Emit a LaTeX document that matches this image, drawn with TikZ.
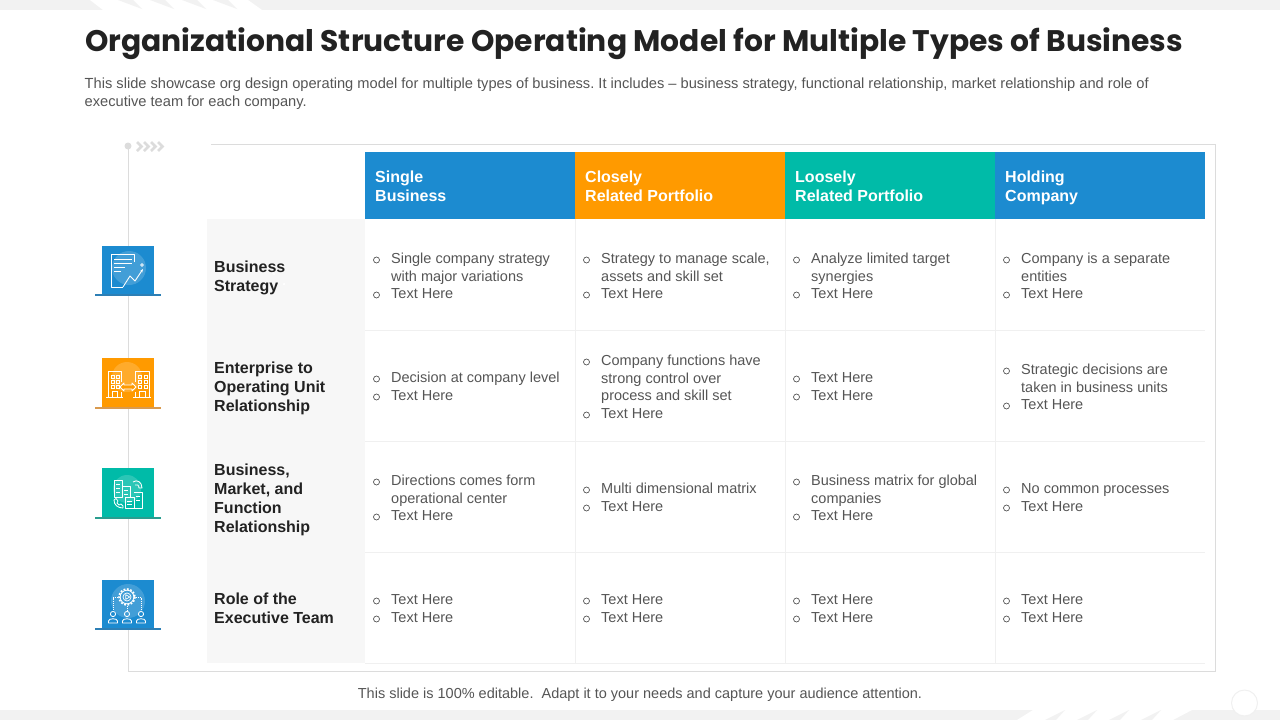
\documentclass[tikz,border=0pt]{standalone}
\usepackage{fontspec}
\setmainfont{Liberation Sans}
\newfontfamily\titlefont{Poppins}
\usepackage{xcolor}
\definecolor{bandgrey}{HTML}{F2F2F2}
\definecolor{framegrey}{HTML}{DCDCDC}
\definecolor{rowgrey}{HTML}{F7F7F7}
\definecolor{hairgrey}{HTML}{F0F0F0}
\definecolor{bodygrey}{HTML}{555555}
\definecolor{inkdark}{HTML}{222222}
\definecolor{blueone}{HTML}{1C8BD0}
\definecolor{orangeone}{HTML}{FF9A00}
\definecolor{tealone}{HTML}{00BBA8}
\definecolor{bluebase}{HTML}{2D7FB5}
\definecolor{orangebase}{HTML}{D99A4E}
\definecolor{tealbase}{HTML}{2A9D8F}
\usetikzlibrary{positioning,calc,arrows.meta}
\tikzset{
	headbox/.style={minimum width=210pt,minimum height=67pt,inner sep=0pt,outer sep=0pt,anchor=north west},
	headtext/.style={text=white,font=\fontsize{16}{19}\selectfont\bfseries,align=left,inner sep=0pt},
	rowtext/.style={text=inkdark,font=\fontsize{16}{19}\selectfont\bfseries,align=left,anchor=north west,inner sep=0pt},
	celltext/.style={text=bodygrey,font=\fontsize{14.5}{17.6}\selectfont,align=left,anchor=north west,inner sep=0pt},
	bulletdot/.style={circle,draw=bodygrey,line width=0.7pt,minimum size=6pt,inner sep=0pt},
	iconbox/.style={minimum width=52pt,minimum height=49.5pt,inner sep=0pt,outer sep=0pt},
	iconglow/.style={circle,fill=white,fill opacity=0.17,inner sep=0pt},
	iconline/.style={draw=white,line width=0.85pt,line join=round},
	hair/.style={draw=hairgrey,line width=0.8pt}
}
\begin{document}
\frenchspacing
\begin{tikzpicture}[x=1pt,y=-1pt]
	\useasboundingbox (0,0) rectangle (1280,720);
	% top and bottom bands
	\fill[bandgrey] (0,0) rectangle (1280,10);
	\fill[bandgrey] (0,710) rectangle (1280,720);
	\fill[white] (90,0) -- (248,0) -- (262,10) -- (103,10) -- cycle;
	\fill[white] (1017,720) -- (1173,720) -- (1192,710) -- (1033,710) -- cycle;
	\foreach \sx in {118,150,182,213}
		\fill[bandgrey] (\sx,0) -- (\sx+15,0) -- (\sx+24,9) -- cycle;
	\foreach \sx in {1045,1077,1109,1141}
		\fill[bandgrey] (\sx,720) -- (\sx+11,720) -- (\sx+20,710) -- cycle;
	\draw[draw=hairgrey,fill=white,line width=1pt] (1244.5,703) circle (13);
	% heading
	\node[anchor=west,inner sep=0pt,text=inkdark,font=\fontsize{29.75}{36}\titlefont\bfseries] (title) at (85,44) {Organizational Structure Operating Model for Multiple Types of Business};
	\node[anchor=north west,inner sep=0pt,text=bodygrey,font=\fontsize{14.65}{18}\selectfont,align=left] (intro) at (84.5,77.5) {This slide showcase org design operating model for multiple types of business. It includes -- business strategy, functional relationship, market relationship and role of\\executive team for each company.};
	\node[text=bodygrey,font=\fontsize{14.5}{18}\selectfont,inner sep=0pt] (closing) at (640,695) {This slide is 100\% editable.\ \ Adapt it to your needs and capture your audience attention.};
	% frame and time line
	\draw[framegrey,line width=1pt] (211,144.5) -- (1215,144.5) -- (1215,671.5) -- (128,671.5) -- (128,146);
	\node[circle,fill=framegrey,minimum size=7pt,inner sep=0pt] (startdot) at (128,146) {};
	\foreach \cx in {137,144,151,158}
		\draw[framegrey,line width=2.6pt] (\cx,142) -- (\cx+4.5,146.5) -- (\cx,151);
	% row labels
	\fill[rowgrey] (207,219) rectangle (365,663);
	\node[rowtext] (rowa) at (214,260.5) {Business\\Strategy};
	\node[rowtext] (rowb) at (214,361.5) {Enterprise to\\Operating Unit\\Relationship};
	\node[rowtext] (rowc) at (214,463.5) {Business,\\Market, and\\Function\\Relationship};
	\node[rowtext] (rowd) at (214,593) {Role of the\\Executive Team};
	% header cells
	\node[headbox,fill=blueone] (heada) at (365,152) {};
	\node[headbox,fill=orangeone] (headb) at (575,152) {};
	\node[headbox,fill=tealone] (headc) at (785,152) {};
	\node[headbox,fill=blueone] (headd) at (995,152) {};
	\node[headtext,below right=19pt and 10pt of heada.north west] (labela) {Single\\Business};
	\node[headtext,below right=19pt and 10pt of headb.north west] (labelb) {Closely\\Related Portfolio};
	\node[headtext,below right=19pt and 10pt of headc.north west] (labelc) {Loosely\\Related Portfolio};
	\node[headtext,below right=19pt and 10pt of headd.north west] (labeld) {Holding\\Company};
	% cell rules
	\foreach \ry in {330,441,552,663}
		\draw[hair] (365,\ry) -- (1205,\ry);
	\foreach \rx in {575,785,995}
		\draw[hair] (\rx,219) -- (\rx,663);
	% cell texts
	\foreach \nm/\cx/\cy/\txt in {
		aa/365/258/{Single company strategy\\with major variations},
		ab/365/293/{Text Here},
		ba/575/258/{Strategy to manage scale,\\assets and skill set},
		bb/575/293/{Text Here},
		ca/785/258/{Analyze limited target\\synergies},
		cb/785/293/{Text Here},
		da/995/258/{Company is a separate\\entities},
		db/995/293/{Text Here},
		ea/365/377/{Decision at company level},
		eb/365/395/{Text Here},
		fa/575/360/{Company functions have\\strong control over\\process and skill set},
		fb/575/413/{Text Here},
		ga/785/377/{Text Here},
		gb/785/395/{Text Here},
		ha/995/369/{Strategic decisions are\\taken in business units},
		hb/995/404/{Text Here},
		ia/365/480/{Directions comes form\\operational center},
		ib/365/515/{Text Here},
		ja/575/488/{Multi dimensional matrix},
		jb/575/506/{Text Here},
		ka/785/480/{Business matrix for global\\companies},
		kb/785/515/{Text Here},
		la/995/488/{No common processes},
		lb/995/506/{Text Here},
		ma/365/599/{Text Here},
		mb/365/617/{Text Here},
		na/575/599/{Text Here},
		nb/575/617/{Text Here},
		oa/785/599/{Text Here},
		ob/785/617/{Text Here},
		pa/995/599/{Text Here},
		pb/995/617/{Text Here}}{
		\node[bulletdot] (dot\nm) at (\cx+11.5,\cy+2) {};
		\node[celltext] (item\nm) at (\cx+26,\cy-5) {\txt};
	}
	% icon one
	\node[iconbox,fill=blueone] (icona) at (128,270.5) {};
	\draw[draw=bluebase,line width=2pt] ([xshift=-7pt]icona.south west) -- ([xshift=7pt]icona.south east);
	\node[iconglow,minimum size=34pt] (glowa) at (129,268) {};
	\draw[iconline] (134,262) -- (134,254) -- (111,254) -- (111,287) -- (123,287);
	\draw[iconline] (114,259) -- (132,259) (114,263) -- (132,263) (114,267) -- (125,267) (114,271) -- (121,271);
	\draw[iconline,-{Stealth[length=3.5pt]}] (123,287) -- (130,276) -- (135,281) -- (143,269);
	\draw[draw=white,line width=0.7pt] (142,265) circle (1.3);
	\foreach \px/\py in {124,273,132,268,138,274,141,284,131,284}
		\fill[white] (\px,\py) circle (1);
	% icon two
	\node[iconbox,fill=orangeone] (iconb) at (128,383) {};
	\draw[draw=orangebase,line width=2pt] ([xshift=-7pt]iconb.south west) -- ([xshift=7pt]iconb.south east);
	\node[iconglow,minimum size=30pt] (glowb) at (127,377) {};
	\draw[iconline] (108,397) -- (108,371) -- (121,371) -- (121,382) (121,392) -- (121,397);
	\draw[iconline] (149,397) -- (149,371) -- (135,371) -- (135,382) (135,392) -- (135,397);
	\draw[iconline] (106,397.5) -- (123,397.5) (133,397.5) -- (151,397.5);
	\foreach \wx in {111,116,138,144}
		\foreach \wy in {375,380,385}
			\draw[draw=white,line width=0.7pt] (\wx,\wy) rectangle +(3,3);
	\draw[draw=white,line width=0.7pt] (112,391) rectangle (117,397.5) (139,391) rectangle (145,397.5);
	\draw[iconline,fill=orangeone] (120,387) -- (124,383) -- (124,385) -- (132,385) -- (132,383) -- (136,387) -- (132,391) -- (132,389) -- (124,389) -- (124,391) -- cycle;
	% icon three
	\node[iconbox,fill=tealone] (iconc) at (128,493) {};
	\draw[draw=tealbase,line width=2pt] ([xshift=-7pt]iconc.south west) -- ([xshift=7pt]iconc.south east);
	\node[iconglow,minimum size=28pt] (glowc) at (127,489) {};
	\draw[iconline] (114,497) -- (114,480) -- (122,480) -- (122,497) -- cycle;
	\draw[iconline] (122,486) -- (130,486) -- (130,497);
	\draw[iconline] (125,508) -- (125,497) -- (134,497) -- (134,508) -- cycle;
	\draw[iconline] (134,492) -- (142,492) -- (142,508) -- (134,508);
	\draw[iconline] (116,484) -- (120,484) (116,488) -- (120,488) (116,492) -- (120,492);
	\draw[iconline] (124,490) -- (128,490) (124,494) -- (128,494);
	\draw[iconline] (127,501) -- (132,501) (127,504.5) -- (132,504.5) (136,496) -- (140,496) (136,500) -- (140,500);
	\draw[iconline] (114,500) .. controls (114,505) and (118,508) .. (123,508);
	\draw[iconline] (114,500) -- (116,498.5) -- (118,501) -- (117,503) -- (119,505) -- (121,504) -- (123,506) -- (123,508);
	\draw[iconline] (133,482) .. controls (137,479) and (142,482) .. (142,488) -- (139,488) .. controls (139,485) and (137,484) .. (135,485);
	% icon four
	\node[iconbox,fill=blueone] (icond) at (128,604.5) {};
	\draw[draw=bluebase,line width=2pt] ([xshift=-7pt]icond.south west) -- ([xshift=7pt]icond.south east);
	\node[iconglow,minimum size=34pt] (glowd) at (128,601) {};
	\draw[draw=white,line width=1.6pt,dash pattern=on 1.8pt off 1.6pt] (127,597) circle (8);
	\draw[iconline] (127,597) circle (6.8);
	\draw[iconline,line width=0.7pt] (127,597) circle (4);
	\draw[iconline,line width=0.7pt] (125.7,594.7) -- (129.8,597) -- (125.7,599.3) -- cycle;
	\draw[iconline,densely dotted] (118,597) -- (113,597) -- (113,610) (136,597) -- (141,597) -- (141,610) (127,606) -- (127,610);
	\foreach \hx in {113,127,141}{
		\draw[iconline] (\hx,614) circle (2.6);
		\draw[iconline] (\hx-4.5,623) -- (\hx-4.5,621) .. controls (\hx-4.5,618) and (\hx+4.5,618) .. (\hx+4.5,621) -- (\hx+4.5,623) -- cycle;
	}
\end{tikzpicture}
\end{document}
